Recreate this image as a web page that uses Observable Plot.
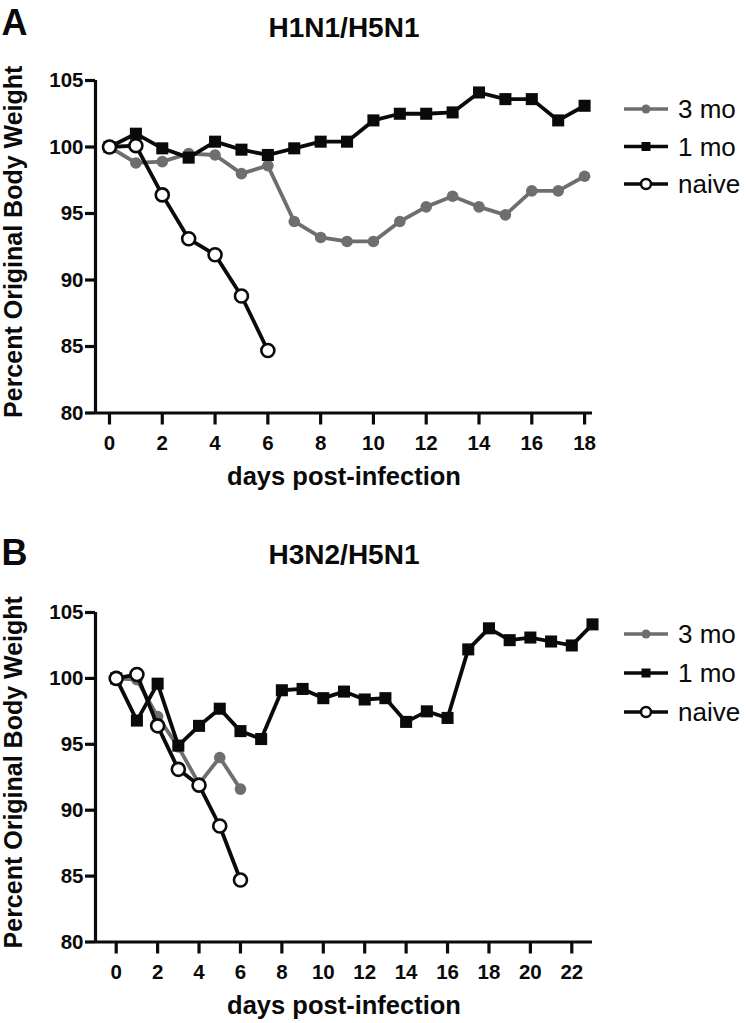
<!DOCTYPE html>
<html>
<head>
<meta charset="utf-8">
<script src="https://cdn.jsdelivr.net/npm/d3@7"></script>
<script src="https://cdn.jsdelivr.net/npm/@observablehq/plot@0.6"></script>
<style>
  html, body { margin: 0; padding: 0; background: #fff; }
  #chart { width: 750px; }
  #chart svg { display: block; }
</style>
</head>
<body>
<div id="chart"></div>
<script>
// ---- data ----
const seriesNames = ["3 mo", "1 mo", "naive"];
const panelLetters = ["A", "B"];
const panelTitles = ["H1N1/H5N1", "H3N2/H5N1"];
const yLabel = "Percent Original Body Weight";
const xLabel = "days post-infection";
const yTicks = [80, 85, 90, 95, 100, 105];
const xTicksA = [0, 2, 4, 6, 8, 10, 12, 14, 16, 18];
const xTicksB = [0, 2, 4, 6, 8, 10, 12, 14, 16, 18, 20, 22];

const daysA3mo = [0,1,2,3,4,5,6,7,8,9,10,11,12,13,14,15,16,17,18];
const valsA3mo = [100, 98.8, 98.9, 99.5, 99.4, 98.0, 98.6, 94.4, 93.2, 92.9, 92.9, 94.4, 95.5, 96.3, 95.5, 94.9, 96.7, 96.7, 97.8];
const daysA1mo = [0,1,2,3,4,5,6,7,8,9,10,11,12,13,14,15,16,17,18];
const valsA1mo = [100, 101.0, 99.9, 99.2, 100.4, 99.8, 99.4, 99.9, 100.4, 100.4, 102.0, 102.5, 102.5, 102.6, 104.1, 103.6, 103.6, 102.0, 103.1];
const daysAnaive = [0,1,2,3,4,5,6];
const valsAnaive = [100, 100.1, 96.4, 93.1, 91.9, 88.8, 84.7];

const daysB3mo = [0,1,2,3,4,5,6];
const valsB3mo = [100, 99.9, 97.1, 94.8, 92.0, 94.0, 91.6];
const daysB1mo = [0,1,2,3,4,5,6,7,8,9,10,11,12,13,14,15,16,17,18,19,20,21,22,23];
const valsB1mo = [100, 96.8, 99.6, 94.9, 96.4, 97.7, 96.0, 95.4, 99.1, 99.2, 98.5, 99.0, 98.4, 98.5, 96.7, 97.5, 97.0, 102.2, 103.8, 102.9, 103.1, 102.8, 102.5, 104.1];
const daysBnaive = [0,1,2,3,4,5,6];
const valsBnaive = [100, 100.3, 96.4, 93.1, 91.9, 88.8, 84.7];

// ---- styles ----
const GRAY = "#6e6e6e";
const BLACK = "#0a0a0a";
const FONT = "'Liberation Sans', Arial, Helvetica, sans-serif";

function rows(days, vals, series) {
  return days.map((d, i) => ({day: d, value: vals[i], series}));
}

function panel({letter, title, titleY, xDomain, xTicks, height, marginTop, marginBottom, legendTop, legendStep, data3, data1, dataN}) {
  const marginLeft = 95, marginRight = 750 - 592;
  const svg = Plot.plot({
    width: 750,
    height,
    marginLeft, marginRight, marginTop, marginBottom,
    style: {fontFamily: FONT, fontSize: "20px", fontWeight: "bold", color: BLACK, background: "#fff", overflow: "visible"},
    x: {domain: xDomain, ticks: xTicks},
    y: {domain: [80, 105], ticks: yTicks},
    marks: [
      // axes (Prism style)
      Plot.axisY(yTicks, {tickSize: 10, tickPadding: 2, strokeWidth: 3.2, label: null, fontSize: 20.5, fontWeight: "bold"}),
      Plot.axisX(xTicks, {tickSize: 12, tickPadding: 10, strokeWidth: 3.2, label: null, fontSize: 20.5, fontWeight: "bold"}),
      Plot.ruleX([xDomain[0]], {y1: 80, y2: 105, stroke: BLACK, strokeWidth: 3.2}),
      Plot.ruleY([80], {stroke: BLACK, strokeWidth: 3.2}),
      // series
      Plot.line(data3, {x: "day", y: "value", stroke: GRAY, strokeWidth: 3.8}),
      Plot.dot(data3, {x: "day", y: "value", r: 5.8, fill: GRAY, stroke: "none"}),
      Plot.line(data1, {x: "day", y: "value", stroke: BLACK, strokeWidth: 3.8}),
      Plot.dot(data1, {x: "day", y: "value", symbol: "square", r: 6.8, fill: BLACK, stroke: "none"}),
      Plot.line(dataN, {x: "day", y: "value", stroke: BLACK, strokeWidth: 3.8}),
      Plot.dot(dataN, {x: "day", y: "value", r: 6.5, fill: "#fff", stroke: BLACK, strokeWidth: 2.6}),
      // texts
      Plot.text([title], {frameAnchor: "top", dy: -(marginTop - titleY), lineAnchor: "middle", textAnchor: "middle", fontSize: 28, fontWeight: "bold", fill: BLACK}),
      Plot.text([letter], {frameAnchor: "top-left", dx: -marginLeft + 1, dy: -marginTop + 8.5, textAnchor: "start", lineAnchor: "top", fontSize: 36, fontWeight: "bold", fill: BLACK}),
      Plot.text([yLabel], {frameAnchor: "left", dx: -marginLeft + 13, dy: -5, rotate: -90, textAnchor: "middle", lineAnchor: "middle", fontSize: 25, fontWeight: "bold", fill: BLACK}),
      Plot.text([xLabel], {frameAnchor: "bottom", dy: 64, textAnchor: "middle", lineAnchor: "middle", fontSize: 25.5, fontWeight: "bold", fill: BLACK})
    ]
  });

  // legend (decoration)
  const g = d3.select(svg).append("g").attr("font-family", FONT);
  const legendItems = [
    {name: seriesNames[0], color: GRAY, kind: "dot"},
    {name: seriesNames[1], color: BLACK, kind: "square"},
    {name: seriesNames[2], color: BLACK, kind: "open"}
  ];
  legendItems.forEach((it, i) => {
    const y = marginTop + legendTop + i * legendStep;
    const row = g.append("g").attr("transform", `translate(0,${y})`);
    row.append("line").attr("x1", 624).attr("x2", 668).attr("y1", 0).attr("y2", 0)
      .attr("stroke", it.color).attr("stroke-width", 3.5);
    if (it.kind === "dot") row.append("circle").attr("cx", 646).attr("cy", 0).attr("r", 4.5).attr("fill", it.color);
    if (it.kind === "square") row.append("rect").attr("x", 641.5).attr("y", -4.5).attr("width", 9).attr("height", 9).attr("fill", it.color);
    if (it.kind === "open") row.append("circle").attr("cx", 646).attr("cy", 0).attr("r", 5).attr("fill", "#fff").attr("stroke", it.color).attr("stroke-width", 2.5);
    row.append("text").attr("x", 678).attr("y", 0).attr("dy", "0.36em").attr("font-size", 26)
      .attr("text-anchor", "start").attr("font-weight", "normal").attr("fill", BLACK).text(it.name);
  });
  return svg;
}

const chart = document.getElementById("chart");
chart.appendChild(panel({
  letter: panelLetters[0], title: panelTitles[0], titleY: 28,
  xDomain: [-0.53, 18.3], xTicks: xTicksA,
  height: 530, marginTop: 80, marginBottom: 117.5,
  legendTop: 29, legendStep: 37.5,
  data3: rows(daysA3mo, valsA3mo, seriesNames[0]),
  data1: rows(daysA1mo, valsA1mo, seriesNames[1]),
  dataN: rows(daysAnaive, valsAnaive, seriesNames[2])
}));
chart.appendChild(panel({
  letter: panelLetters[1], title: panelTitles[1], titleY: 25,
  xDomain: [-1, 23], xTicks: xTicksB,
  height: 493, marginTop: 82, marginBottom: 81.5,
  legendTop: 22, legendStep: 39,
  data3: rows(daysB3mo, valsB3mo, seriesNames[0]),
  data1: rows(daysB1mo, valsB1mo, seriesNames[1]),
  dataN: rows(daysBnaive, valsBnaive, seriesNames[2])
}));
</script>
</body>
</html>
